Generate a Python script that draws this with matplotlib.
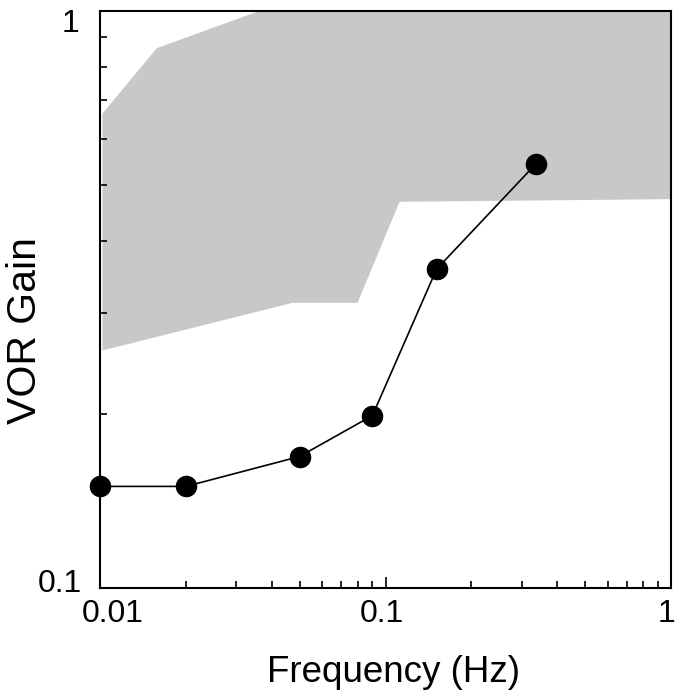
import numpy as np
import matplotlib
matplotlib.use('Agg')
import matplotlib.pyplot as plt
import matplotlib.transforms as mtransforms
from matplotlib.ticker import LogLocator, NullFormatter, FixedLocator, FixedFormatter

plt.rcParams['font.family'] = ['Liberation Sans', 'DejaVu Sans']

# measured VOR gain
freq = [0.01, 0.02, 0.05, 0.09, 0.151, 0.336]
gain = [0.150, 0.150, 0.169, 0.199, 0.357, 0.543]

# normal range (shaded band)
band_up_f = [0.0102, 0.0158, 0.0361, 1.0]
band_up_g = [0.664, 0.862, 1.0, 1.0]
band_lo_f = [0.0102, 0.0472, 0.0798, 0.112, 1.0]
band_lo_g = [0.258, 0.312, 0.312, 0.467, 0.472]

xtick_vals = [0.01, 0.1, 1]
xtick_labels = ['0.01', '0.1', '1']
ytick_vals = [0.1, 1]
ytick_labels = ['0.1', '1']

fig = plt.figure(figsize=(6.83, 6.92), dpi=100)
ax = fig.add_axes([100/683, 1-588/692, 571/683, 577/692])
ax.set_xscale('log')
ax.set_yscale('log')
ax.set_xlim(0.01, 1)
ax.set_ylim(0.1, 1)

# band polygon: upper edge left->right, lower edge right->left
poly_f = band_up_f + band_lo_f[::-1]
poly_g = band_up_g + band_lo_g[::-1]
ax.fill(poly_f, poly_g, color='#c8c8c8', lw=0, zorder=1)

ax.plot(freq, gain, '-', color='black', lw=1.2, zorder=3, clip_on=False)
ax.plot(freq, gain, 'o', color='black', ms=14.5, zorder=4, clip_on=False)

for s in ax.spines.values():
    s.set_linewidth(1.5)
    s.set_zorder(5)

ax.xaxis.set_major_locator(FixedLocator(xtick_vals))
ax.xaxis.set_major_formatter(FixedFormatter(xtick_labels))
ax.xaxis.set_minor_locator(LogLocator(base=10, subs=np.arange(2, 10)))
ax.xaxis.set_minor_formatter(NullFormatter())
ax.yaxis.set_major_locator(FixedLocator(ytick_vals))
ax.yaxis.set_major_formatter(FixedFormatter(ytick_labels))
ax.yaxis.set_minor_locator(LogLocator(base=10, subs=np.arange(2, 10)))
ax.yaxis.set_minor_formatter(NullFormatter())

ax.tick_params(axis='both', which='both', direction='in', labelsize=23, width=1.2)
ax.tick_params(axis='x', which='major', length=8, pad=8)
ax.tick_params(axis='y', which='major', length=0, pad=13)
ax.tick_params(axis='both', which='minor', length=5)

# nudge tick labels a bit like the original
xoff = [13, -4, -4]
for lab, dx in zip(ax.get_xticklabels(), xoff):
    lab.set_transform(lab.get_transform() + mtransforms.Affine2D().translate(dx, 0))
yoff = [(0, 7), (-3, -9)]
for lab, (dx, dy) in zip(ax.get_yticklabels(), yoff):
    lab.set_transform(lab.get_transform() + mtransforms.Affine2D().translate(dx, dy))

ax.set_xlabel('Frequency (Hz)', fontsize=26.5, va='baseline')
ax.xaxis.set_label_coords(0.514, -0.163)
ax.set_ylabel('VOR Gain', fontsize=29.5, va='baseline')
ax.yaxis.set_label_coords(-0.112, 0.447)

fig.savefig('out.png', dpi=100)
